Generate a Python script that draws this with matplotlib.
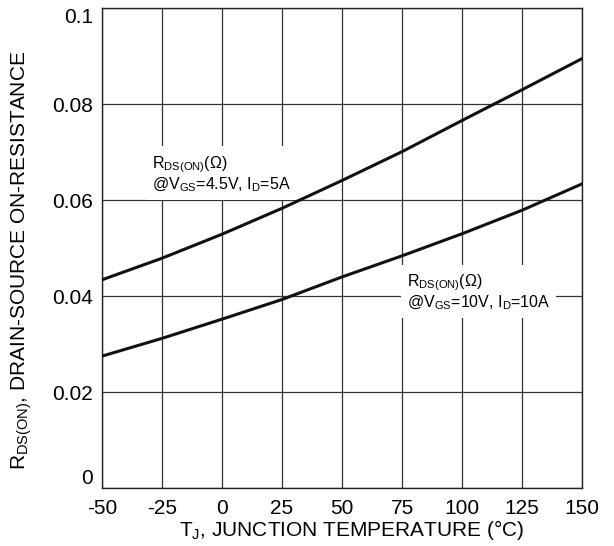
import numpy as np
import matplotlib
matplotlib.use("Agg")
import matplotlib.pyplot as plt

plt.rcParams['font.family'] = ['Liberation Sans', 'DejaVu Sans']
plt.rcParams['mathtext.fontset'] = 'custom'
plt.rcParams['mathtext.rm'] = 'Liberation Sans'
plt.rcParams['mathtext.it'] = 'Liberation Sans'

# junction temperature (C) and R_DS(on) (ohm)
temp = [-50, -25, 0, 25, 50, 75, 100, 125, 150]
r_vgs45 = [0.0434, 0.0479, 0.0529, 0.0583, 0.0641, 0.0701, 0.0766, 0.0830, 0.0895]
r_vgs10 = [0.0275, 0.0312, 0.0352, 0.0393, 0.0440, 0.0484, 0.0530, 0.0579, 0.0634]

xticks = [-50, -25, 0, 25, 50, 75, 100, 125, 150]
yticks = [0, 0.02, 0.04, 0.06, 0.08, 0.1]
ytick_labels = ['0', '0.02', '0.04', '0.06', '0.08', '0.1']

fig = plt.figure(figsize=(6.14, 5.46), dpi=100)
ax = fig.add_axes([0.166, 0.106, 0.782, 0.879])

ax.plot(temp, r_vgs45, color='#111111', lw=2.2, zorder=3)
ax.plot(temp, r_vgs10, color='#111111', lw=2.2, zorder=3)

ax.set_xlim(-50, 150)
ax.set_ylim(0, 0.1)
ax.set_xticks(xticks)
ax.set_xticklabels([str(t) for t in xticks])
ax.set_yticks(yticks)
ax.set_yticklabels(ytick_labels)
ax.tick_params(length=0, labelsize=15)
ax.tick_params(axis='x', pad=8)
ax.tick_params(axis='y', pad=6.5)
# first and last y labels sit inside the axis range
ylabs = ax.get_yticklabels()
ylabs[0].set_va('bottom')
ylabs[-1].set_va('top')

ax.grid(True, color='#333333', lw=0.9)
ax.set_axisbelow(True)
for s in ax.spines.values():
    s.set_color('#222222')
    s.set_linewidth(1.0)

ax.set_xlabel(r'T$_{\mathregular{J}}$, JUNCTION TEMPERATURE (°C)', fontsize=15)
ax.set_ylabel(r'R$_{\mathregular{DS(ON)}}$, DRAIN-SOURCE ON-RESISTANCE', fontsize=15)
ax.xaxis.set_label_coords(0.52, -0.063)
ax.yaxis.set_label_coords(-0.142, 0.475)

ax.text(-29.2, 0.0654, 'R$_{\\mathregular{DS(ON)}}$(Ω)\n@V$_{\\mathregular{GS}}$=4.5V, I$_{\\mathregular{D}}$=5A',
        fontsize=11.5, va='center', ha='left', linespacing=1.1, zorder=2,
        bbox=dict(facecolor='white', edgecolor='none', pad=4))
ax.text(77, 0.0408, 'R$_{\\mathregular{DS(ON)}}$(Ω)\n@V$_{\\mathregular{GS}}$=10V, I$_{\\mathregular{D}}$=10A',
        fontsize=11.5, va='center', ha='left', linespacing=1.1, zorder=2,
        bbox=dict(facecolor='white', edgecolor='none', pad=4))

fig.savefig('out.png', dpi=100)
